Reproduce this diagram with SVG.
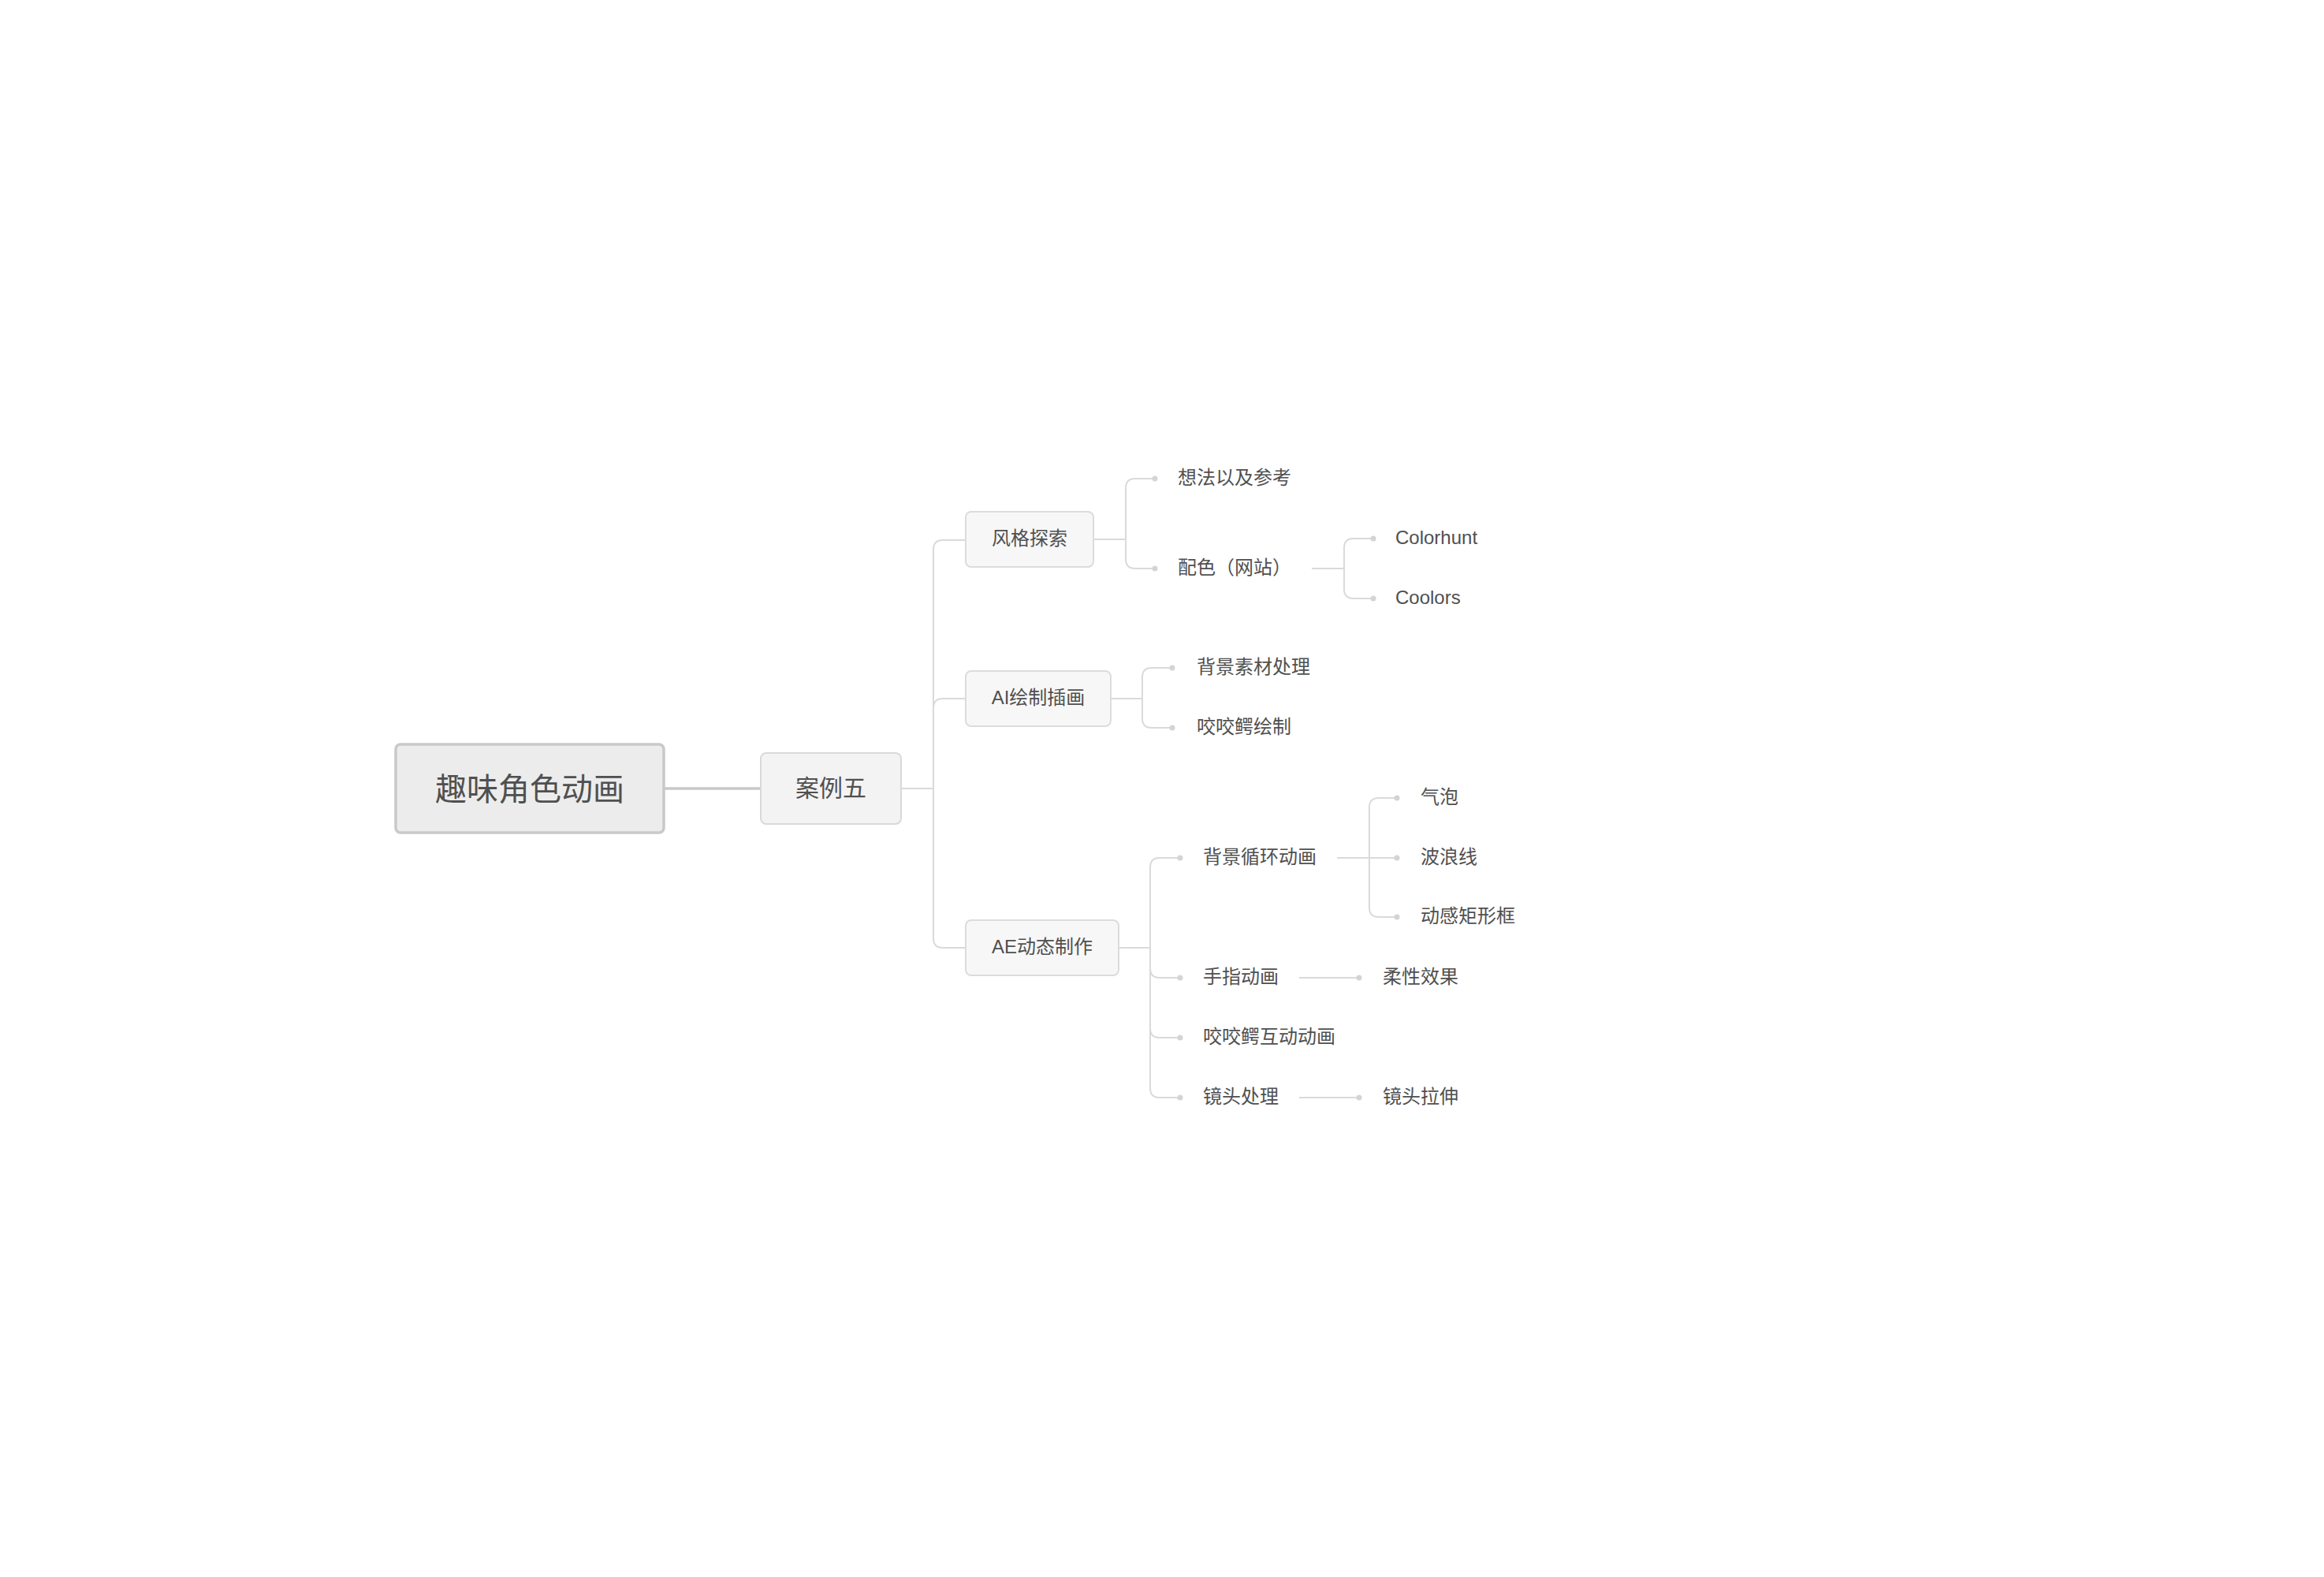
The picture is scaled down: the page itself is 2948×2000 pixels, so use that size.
<svg xmlns="http://www.w3.org/2000/svg" width="2948" height="2000" viewBox="0 0 2948 2000">
<style>
text{font-family:"Liberation Sans","Noto Sans CJK SC",sans-serif;fill:#505050;dominant-baseline:central}
.root rect{fill:#ececec;stroke:#c9c9c9;stroke-width:3.5}
.l1 rect{fill:#f3f3f3;stroke:#d9d9d9;stroke-width:2}
.l2 rect{fill:#f7f7f7;stroke:#dcdcdc;stroke-width:2}
.c path{fill:none;stroke:#dadada;stroke-width:2}
.c circle{fill:#d4d4d4}
.t24{font-size:24px}
</style>
<rect width="2948" height="2000" fill="#ffffff"/>
<g class="c" id="connectors">
<path d="M843,1000 H965" style="stroke:#c8c8c8;stroke-width:3.5"/>
<path d="M1143,1000 H1184 V697 Q1184,685 1196,685 H1225"/>
<path d="M1143,1000 H1184 V898 Q1184,886 1196,886 H1225"/>
<path d="M1143,1000 H1184 V1190 Q1184,1202 1196,1202 H1225"/>
<path d="M1387,684 H1428 V619 Q1428,607 1440,607 H1465"/>
<path d="M1387,684 H1428 V709 Q1428,721 1440,721 H1465"/>
<circle cx="1465" cy="607" r="3.5"/>
<circle cx="1465" cy="721" r="3.5"/>
<path d="M1664,721 H1705 V695 Q1705,683 1717,683 H1742"/>
<path d="M1664,721 H1705 V747 Q1705,759 1717,759 H1742"/>
<circle cx="1742" cy="683" r="3.5"/>
<circle cx="1742" cy="759" r="3.5"/>
<path d="M1409,886 H1449 V859 Q1449,847 1461,847 H1487"/>
<path d="M1409,886 H1449 V911 Q1449,923 1461,923 H1487"/>
<circle cx="1487" cy="847" r="3.5"/>
<circle cx="1487" cy="923" r="3.5"/>
<path d="M1419,1202 H1459 V1100 Q1459,1088 1471,1088 H1497"/>
<path d="M1419,1202 H1459 V1228 Q1459,1240 1471,1240 H1497"/>
<path d="M1419,1202 H1459 V1304 Q1459,1316 1471,1316 H1497"/>
<path d="M1419,1202 H1459 V1380 Q1459,1392 1471,1392 H1497"/>
<circle cx="1497" cy="1088" r="3.5"/>
<circle cx="1497" cy="1240" r="3.5"/>
<circle cx="1497" cy="1316" r="3.5"/>
<circle cx="1497" cy="1392" r="3.5"/>
<path d="M1696,1088 H1737 V1024 Q1737,1012 1749,1012 H1772"/>
<path d="M1696,1088 H1772"/>
<path d="M1696,1088 H1737 V1151 Q1737,1163 1749,1163 H1772"/>
<circle cx="1772" cy="1012" r="3.5"/>
<circle cx="1772" cy="1088" r="3.5"/>
<circle cx="1772" cy="1163" r="3.5"/>
<path d="M1648,1240 H1724"/>
<circle cx="1724" cy="1240" r="3.5"/>
<path d="M1648,1392 H1724"/>
<circle cx="1724" cy="1392" r="3.5"/>
</g>
<g id="root" class="root"><rect x="502" y="944" width="340" height="112" rx="6"/><text x="672" y="1001" font-size="40" text-anchor="middle">趣味角色动画</text></g>
<g id="case5" class="l1"><rect x="965" y="955" width="178" height="90" rx="7"/><text x="1054" y="999" font-size="30" text-anchor="middle">案例五</text></g>
<g id="style" class="l2"><rect x="1225" y="649" width="162" height="70" rx="7"/><text class="t24" x="1306" y="682" text-anchor="middle">风格探索</text></g>
<g id="ai" class="l2"><rect x="1225" y="851" width="184" height="70" rx="7"/><text class="t24" x="1317" y="884" text-anchor="middle">AI绘制插画</text></g>
<g id="ae" class="l2"><rect x="1225" y="1167" width="194" height="70" rx="7"/><text class="t24" x="1322" y="1200" text-anchor="middle">AE动态制作</text></g>
<g id="idea"><text class="t24" x="1494" y="605">想法以及参考</text></g>
<g id="color"><text class="t24" x="1494" y="719">配色（网站）</text></g>
<g id="colorhunt"><text class="t24" x="1770" y="681">Colorhunt</text></g>
<g id="coolors"><text class="t24" x="1770" y="757">Coolors</text></g>
<g id="bgmat"><text class="t24" x="1518" y="845">背景素材处理</text></g>
<g id="croc"><text class="t24" x="1518" y="921">咬咬鳄绘制</text></g>
<g id="bgloop"><text class="t24" x="1526" y="1086">背景循环动画</text></g>
<g id="bubble"><text class="t24" x="1802" y="1010">气泡</text></g>
<g id="wave"><text class="t24" x="1802" y="1086">波浪线</text></g>
<g id="rect"><text class="t24" x="1802" y="1161">动感矩形框</text></g>
<g id="finger"><text class="t24" x="1526" y="1238">手指动画</text></g>
<g id="soft"><text class="t24" x="1754" y="1238">柔性效果</text></g>
<g id="crocanim"><text class="t24" x="1526" y="1314">咬咬鳄互动动画</text></g>
<g id="lens"><text class="t24" x="1526" y="1390">镜头处理</text></g>
<g id="stretch"><text class="t24" x="1754" y="1390">镜头拉伸</text></g>
</svg>
